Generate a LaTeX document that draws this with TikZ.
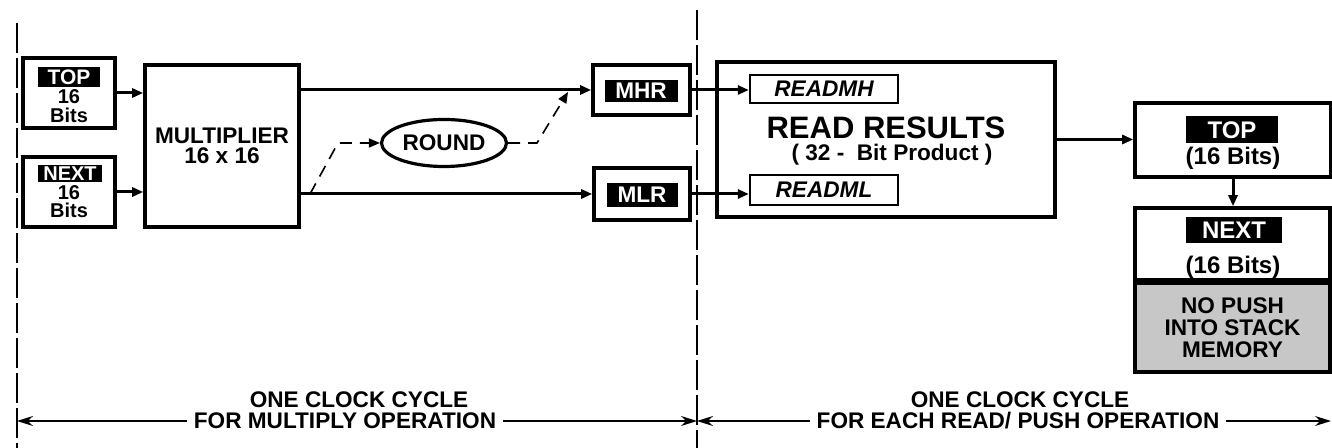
\documentclass[tikz,border=0pt]{standalone}
\usepackage{fontspec}
\setmainfont{Liberation Sans}
\usetikzlibrary{arrows.meta, positioning, shapes.geometric, calc}

\begin{document}
\begin{tikzpicture}[x=0.5pt,y=-0.5pt,
    font=\fontsize{11.3}{12}\selectfont\bfseries,
    small/.style={inner sep=0pt,font=\fontsize{10}{10}\selectfont\bfseries},
    reg/.style={draw,line width=1.8pt,inner sep=0pt},
    tag/.style={fill=black,text=white,inner sep=0pt},
    arr/.style={-{Triangle[length=5.5pt,width=4.5pt]},line width=1.5pt},
    rnd/.style={-{Triangle[length=5.5pt,width=4.5pt]},line width=0.8pt,dash pattern=on 6pt off 4pt},
    cyc/.style={-{Stealth[length=8pt,width=5pt]},line width=0.7pt},
    sep/.style={line width=0.7pt,dash pattern=on 15pt off 2.5pt}]
  \useasboundingbox (0,0) rectangle (1332,448);

  % Cycle boundaries
  \coordinate (l0) at (17,23);
  \coordinate (l1) at (17,448);
  \coordinate (m0) at (697,10);
  \coordinate (m1) at (697,448);
  \draw[sep] (l0) -- (l1);
  \draw[sep] (m0) -- (m1);

  % Stack inputs
  \node[reg,minimum width=46pt,minimum height=35pt] (topin) at (69,93) {};
  \node[tag,minimum width=31pt,minimum height=10pt,font=\fontsize{10.5}{10}\selectfont\bfseries] (topintag) at (69,77) {TOP};
  \node[small] (topin16) at (69,97) {16};
  \node[small] (topinbits) at (69,115) {Bits};
  \node[reg,minimum width=46pt,minimum height=35pt] (nextin) at (69,192) {};
  \node[tag,minimum width=32pt,minimum height=8.5pt,font=\fontsize{10}{10}\selectfont\bfseries] (nextintag) at (70,174) {NEXT};
  \node[small] (nextin16) at (69,193) {16};
  \node[small] (nextinbits) at (69,210) {Bits};

  % Multiplier and result registers
  \node[reg,minimum width=77pt,minimum height=81pt,align=center,
        font=\fontsize{11.3}{10}\selectfont\bfseries] (mult) at (222,146) {MULTIPLIER\\16 x 16};
  \node[reg,minimum width=48.5pt,minimum height=25pt] (mhr) at (641.5,90) {};
  \node[tag,minimum width=36.5pt,minimum height=11pt] (mhrtag) at (641,91) {MHR};
  \node[reg,minimum width=48pt,minimum height=26pt] (mlr) at (642,194) {};
  \node[tag,minimum width=35.5pt,minimum height=12pt] (mlrtag) at (642,195) {MLR};
  \node[draw,ellipse,line width=1.6pt,minimum width=62.5pt,minimum height=23.5pt,inner sep=0pt] (round) at (444,143) {ROUND};

  \draw[arr] (topin.east) -- (topin.east -| mult.west);
  \draw[arr] (nextin.east) -- (nextin.east -| mult.west);
  \draw[arr] (mult.east |- mhr.west) -- (mhr.west);
  \draw[arr] (mult.east |- mlr.west) -- (mlr.west);

  % Rounding path (dashed)
  \coordinate (tap) at (310,194);
  \coordinate (rk1) at (338,143);
  \coordinate (rk2) at (537,143);
  \coordinate (rk3) at (568,92);
  \draw[rnd] (tap) -- (rk1) -- (round.west);
  \draw[rnd] (round.east) -- (rk2) -- (rk3);

  % Read results
  \node[reg,minimum width=169pt,minimum height=77.5pt] (rr) at (886,139.5) {};
  \node[font=\fontsize{15.5}{16}\selectfont\bfseries] (rrtitle) at (886,128) {READ RESULTS};
  \node (rrsub) at (892,155) {( 32 -\ \ Bit Product )};
  \node[draw,line width=1.2pt,minimum width=74pt,minimum height=14pt,inner sep=0pt,
        font=\fontsize{11.3}{12}\selectfont\bfseries\itshape] (readmh) at (824,89) {READMH};
  \node[draw,line width=1.2pt,minimum width=74pt,minimum height=15pt,inner sep=0pt,
        font=\fontsize{11.3}{12}\selectfont\bfseries\itshape] (readml) at (824,190) {READML};
  \draw[arr] (mhr.east) -- (mhr.east -| readmh.west);
  \draw[arr] (mlr.east) -- (mlr.east -| readml.west);

  % Stack after the read
  \node[reg,minimum width=98pt,minimum height=37pt] (topout) at (1233,140) {};
  \node[tag,minimum width=46pt,minimum height=13.5pt,font=\fontsize{12}{12}\selectfont\bfseries] (topouttag) at (1232,130) {TOP};
  \node[font=\fontsize{12}{12}\selectfont\bfseries] (topoutbits) at (1233,158) {(16 Bits)};
  \node[reg,minimum width=97.5pt,minimum height=36pt] (nextout) at (1232.5,244) {};
  \node[tag,minimum width=48pt,minimum height=13pt,font=\fontsize{12}{12}\selectfont\bfseries] (nextouttag) at (1234,230) {NEXT};
  \node[font=\fontsize{12}{12}\selectfont\bfseries] (nextoutbits) at (1233,267) {(16 Bits)};
  \node[reg,fill=black!22,minimum width=97.5pt,minimum height=44.5pt,align=center,
        font=\fontsize{11.3}{11}\selectfont\bfseries] (nopush) at (1232.5,327.5) {NO PUSH\\INTO STACK\\MEMORY};
  \draw[arr] (rr.east) -- (rr.east -| topout.west);
  \draw[arr] (topout.south) -- (topout.south |- nextout.north);

  % Clock cycles
  \node (one1) at (359,400) {ONE CLOCK CYCLE};
  \node (for1) at (345,421) {FOR MULTIPLY OPERATION};
  \draw[cyc] (for1.west) -- (for1.west -| l1);
  \draw[cyc] (for1.east) -- (for1.east -| m1);
  \node (one2) at (1020,400) {ONE CLOCK CYCLE};
  \node (for2) at (1018,421) {FOR EACH READ/ PUSH OPERATION};
  \coordinate (r1) at (1331,421);
  \draw[cyc] (for2.west) -- (for2.west -| m1);
  \draw[cyc] (for2.east) -- (r1);
\end{tikzpicture}
\end{document}
